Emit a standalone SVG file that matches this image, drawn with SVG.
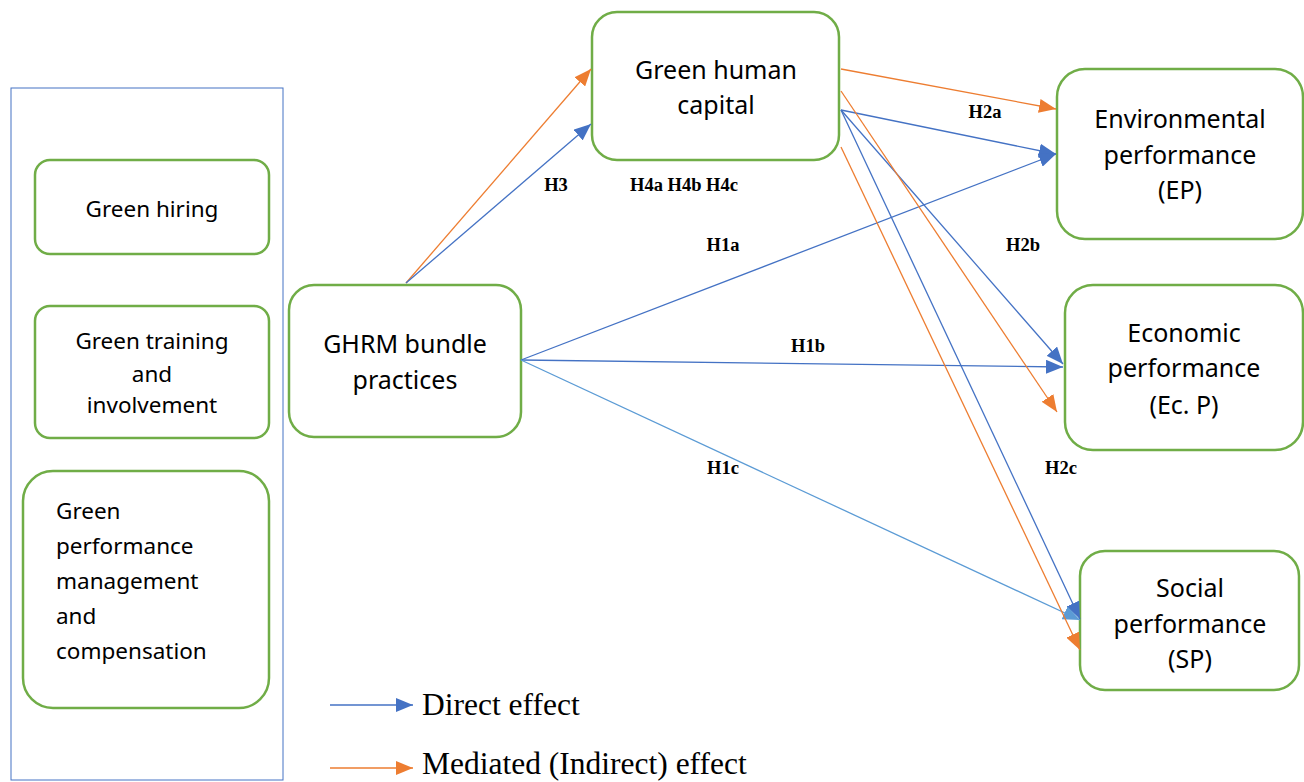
<svg xmlns="http://www.w3.org/2000/svg" width="1304" height="782" viewBox="0 0 1304 782">
<style>
.node{fill:#fff;stroke:#70AD47;stroke-width:2.5}
.t{font-family:"Noto Sans","Open Sans",sans-serif;font-size:25px;fill:#000;text-anchor:middle}
.ts{font-family:"Noto Sans","Open Sans",sans-serif;font-size:22.5px;fill:#000;text-anchor:middle}
.tl{font-family:"Noto Sans","Open Sans",sans-serif;font-size:22.5px;fill:#000}
.lab{font-family:"Liberation Serif",serif;font-size:18.5px;font-weight:bold;fill:#000;text-anchor:middle}
.leg{font-family:"Liberation Serif",serif;font-size:31.5px;fill:#000}
.b{stroke:#4472C4;stroke-width:1.3;fill:none;marker-end:url(#ab)}
.o{stroke:#ED7D31;stroke-width:1.3;fill:none;marker-end:url(#ao)}
.lb{stroke:#5B9BD5;stroke-width:1.3;fill:none;marker-end:url(#alb)}
</style>
<defs>
<marker id="ab" markerUnits="userSpaceOnUse" markerWidth="18" markerHeight="14" refX="17" refY="7" orient="auto"><path d="M0,0 L17,7 L0,14 Z" fill="#4472C4"/></marker>
<marker id="ao" markerUnits="userSpaceOnUse" markerWidth="18" markerHeight="14" refX="17" refY="7" orient="auto"><path d="M0,0 L17,7 L0,14 Z" fill="#ED7D31"/></marker>
<marker id="alb" markerUnits="userSpaceOnUse" markerWidth="18" markerHeight="14" refX="17" refY="7" orient="auto"><path d="M0,0 L17,7 L0,14 Z" fill="#5B9BD5"/></marker>
</defs>
<rect x="0" y="0" width="1304" height="782" fill="#fff"/>
<rect id="container" x="11" y="88" width="272" height="692" fill="none" stroke="#4472C4" stroke-width="1"/>
<g id="n-hiring"><rect class="node" x="35" y="160" width="234" height="94" rx="15"/><text class="ts" x="152" y="217">Green hiring</text></g>
<g id="n-training"><rect class="node" x="35" y="306" width="234" height="132" rx="15"/><text class="ts" x="152" y="349">Green training</text><text class="ts" x="152" y="382">and</text><text class="ts" x="152" y="413">involvement</text></g>
<g id="n-perf"><rect class="node" x="23" y="471" width="246" height="237" rx="30"/><text class="tl" x="56" y="519">Green</text><text class="tl" x="56" y="554">performance</text><text class="tl" x="56" y="589">management</text><text class="tl" x="56" y="624">and</text><text class="tl" x="56" y="659">compensation</text></g>
<g id="n-ghrm"><rect class="node" x="289" y="285" width="232" height="152" rx="25"/><text class="t" x="405" y="353">GHRM bundle</text><text class="t" x="405" y="389">practices</text></g>
<g id="n-ghc"><rect class="node" x="592" y="12" width="247" height="148" rx="25"/><text class="t" x="716" y="79">Green human</text><text class="t" x="716" y="114">capital</text></g>
<g id="n-ep"><rect class="node" x="1057" y="69" width="246" height="170" rx="28"/><text class="t" x="1180" y="128">Environmental</text><text class="t" x="1180" y="164">performance</text><text class="t" x="1180" y="199">(EP)</text></g>
<g id="n-ecp"><rect class="node" x="1065" y="285" width="238" height="165" rx="28"/><text class="t" x="1184" y="342">Economic</text><text class="t" x="1184" y="377">performance</text><text class="t" x="1184" y="414">(Ec. P)</text></g>
<g id="n-sp"><rect class="node" x="1080" y="551" width="219" height="139" rx="25"/><text class="t" x="1190" y="597">Social</text><text class="t" x="1190" y="633">performance</text><text class="t" x="1190" y="668">(SP)</text></g>
<g id="connectors">
<line class="o" x1="406" y1="283" x2="591" y2="69"/>
<line class="b" x1="406" y1="283" x2="591" y2="124"/>
<line class="o" x1="841" y1="69" x2="1056" y2="109"/>
<line class="b" x1="841" y1="110" x2="1056" y2="154"/>
<line class="b" x1="521" y1="360" x2="1056" y2="154"/>
<line class="b" x1="521" y1="360" x2="1063" y2="367"/>
<line class="b" x1="841" y1="110" x2="1063" y2="364"/>
<line class="o" x1="841" y1="91" x2="1057" y2="412"/>
<line class="b" x1="841" y1="110" x2="1080" y2="619"/>
<line class="lb" x1="521" y1="360" x2="1080" y2="620"/>
<line class="o" x1="841" y1="147" x2="1080" y2="650"/>
</g>
<g id="labels">
<text class="lab" x="556" y="191">H3</text>
<text class="lab" x="684" y="191">H4a H4b H4c</text>
<text class="lab" x="985" y="118">H2a</text>
<text class="lab" x="723" y="251">H1a</text>
<text class="lab" x="1023" y="251">H2b</text>
<text class="lab" x="808" y="352">H1b</text>
<text class="lab" x="723" y="474">H1c</text>
<text class="lab" x="1061" y="474">H2c</text>
</g>
<g id="legend">
<line class="b" x1="330" y1="705" x2="413" y2="705"/>
<text class="leg" x="422" y="715">Direct effect</text>
<line class="o" x1="330" y1="768" x2="413" y2="768"/>
<text class="leg" x="422" y="774">Mediated (Indirect) effect</text>
</g>
</svg>
